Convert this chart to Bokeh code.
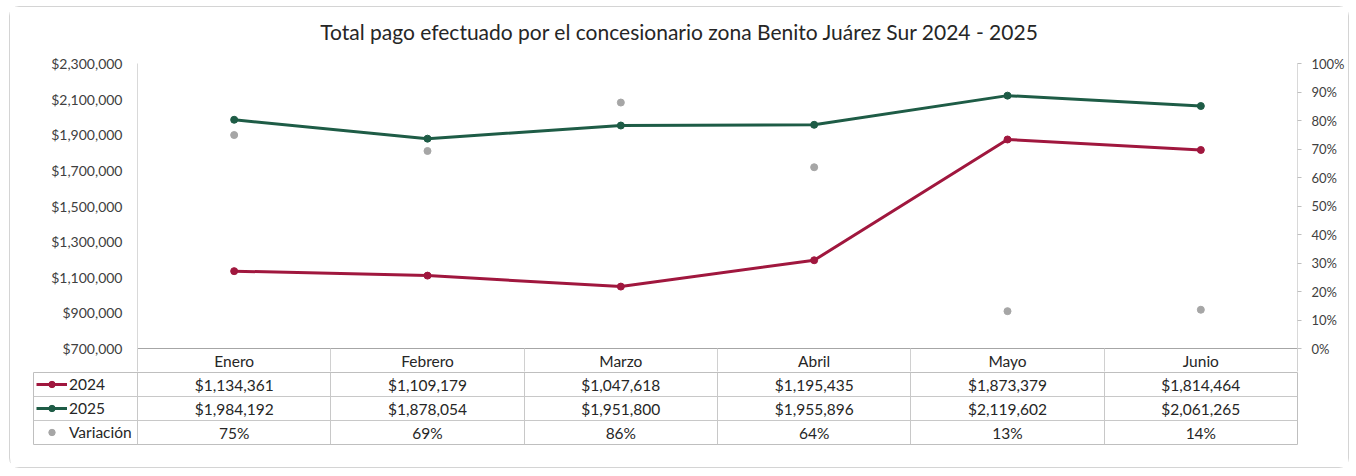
from bokeh.plotting import figure
from bokeh.layouts import column
from bokeh.models import (Range1d, LinearAxis, FixedTicker, NumeralTickFormatter,
                          Grid, Legend, LegendItem, ColumnDataSource, Div)
from bokeh.core.properties import value
from bokeh.embed import file_html
from bokeh.resources import INLINE

# ---------------- data ----------------
months = ["Enero", "Febrero", "Marzo", "Abril", "Mayo", "Junio"]
pago_2024 = [1134361, 1109179, 1047618, 1195435, 1873379, 1814464]
pago_2025 = [1984192, 1878054, 1951800, 1955896, 2119602, 2061265]
variacion = [0.749, 0.693, 0.863, 0.636, 0.131, 0.136]
left_ticks = [700000, 900000, 1100000, 1300000, 1500000, 1700000, 1900000, 2100000, 2300000]
right_ticks = [i / 10 for i in range(11)]
title_text = "Total pago efectuado por el concesionario zona Benito Juárez Sur 2024 - 2025"
series_names = ["2024", "2025", "Variación"]

C24 = "#A0173E"
C25 = "#1E5C46"
CVAR = "#A6A6A6"
FONT = "Lato"
TXT = "#262626"
W = 1338

xs = [i + 0.5 for i in range(len(months))]

# ---------------- title ----------------
title = Div(text=title_text, width=W, height=45, margin=(0, 0, 0, 0),
            styles={"font-family": FONT, "font-size": "21px", "color": TXT,
                    "text-align": "center", "line-height": "26px",
                    "padding-top": "12px", "box-sizing": "border-box",
                    "background-color": "white"})

# ---------------- main chart ----------------
p = figure(width=W, height=320, output_backend="svg", toolbar_location=None,
           x_range=Range1d(0, len(months)), y_range=Range1d(left_ticks[0], left_ticks[-1]),
           min_border_left=127, min_border_right=51, min_border_top=11, min_border_bottom=23,
           tools="", frame_align=False)
p.outline_line_color = None
p.background_fill_color = "white"
p.border_fill_color = "white"
for g in p.grid:
    g.visible = False

# x axis = header row of the table
xa = p.xaxis[0]
xa.ticker = FixedTicker(ticks=xs, minor_ticks=list(range(len(months) + 1)))
xa.major_label_overrides = {x: m for x, m in zip(xs, months)}
xa.major_tick_out = 0
xa.major_tick_in = 0
xa.minor_tick_out = 23
xa.minor_tick_in = 0
xa.minor_tick_line_color = "#d0d0d0"
xa.axis_line_color = "#a6a6a6"
xa.major_label_text_font = FONT
xa.major_label_text_font_size = "15.5px"
xa.major_label_text_color = TXT
xa.major_label_standoff = -20

ya = p.yaxis[0]
ya.ticker = FixedTicker(ticks=left_ticks, minor_ticks=[])
ya.formatter = NumeralTickFormatter(format="$0,0")
ya.major_tick_out = 0
ya.major_tick_in = 0
ya.minor_tick_out = 0
ya.minor_tick_in = 0
ya.axis_line_color = "#d9d9d9"
ya.major_label_text_font = FONT
ya.major_label_text_font_size = "14px"
ya.major_label_text_color = "#404040"
ya.major_label_standoff = 15

p.extra_y_ranges = {"pct": Range1d(0, 1)}
ra = LinearAxis(y_range_name="pct", ticker=FixedTicker(ticks=right_ticks, minor_ticks=[]),
                formatter=NumeralTickFormatter(format="0%"))
ra.major_tick_out = 4
ra.major_tick_in = 0
ra.major_tick_line_color = "#bfbfbf"
ra.minor_tick_out = 0
ra.minor_tick_in = 0
ra.axis_line_color = "#d9d9d9"
ra.major_label_text_font = FONT
ra.major_label_text_font_size = "13px"
ra.major_label_text_color = "#404040"
ra.major_label_standoff = 10
p.add_layout(ra, "right")

src = ColumnDataSource(dict(x=xs, y24=pago_2024, y25=pago_2025, var=variacion))
p.line("x", "y25", source=src, line_color=C25, line_width=3)
p.scatter("x", "y25", source=src, size=7, fill_color=C25, line_color=C25)
p.line("x", "y24", source=src, line_color=C24, line_width=3)
p.scatter("x", "y24", source=src, size=7, fill_color=C24, line_color=C24)
p.scatter("x", "var", source=src, y_range_name="pct", size=7, fill_color=CVAR, line_color=CVAR)

# ---------------- data table ----------------
t = figure(width=W, height=95, output_backend="svg", toolbar_location=None,
           x_range=Range1d(-104 / ((1297 - 137) / 6), len(months)), y_range=Range1d(0, 3),
           x_axis_location=None, y_axis_location=None,
           min_border_left=23, min_border_right=51, min_border_top=0, min_border_bottom=23,
           tools="", frame_align=False)
for g in t.grid:
    g.visible = False
t.outline_line_color = "#bfbfbf"
t.border_fill_color = "white"
t.add_layout(Grid(dimension=0, ticker=FixedTicker(ticks=list(range(len(months)))),
                  grid_line_color="#c8c8c8"), "center")
t.add_layout(Grid(dimension=1, ticker=FixedTicker(ticks=[1, 2]),
                  grid_line_color="#c8c8c8"), "center")

lab24 = ["${:,}".format(v) for v in pago_2024]
lab25 = ["${:,}".format(v) for v in pago_2025]
labvar = ["{}%".format(round(v * 100)) for v in variacion]
tsrc = ColumnDataSource(dict(x=xs, r1=[2.5] * 6, r2=[1.5] * 6, r3=[0.5] * 6,
                             a=lab24, b=lab25, c=labvar))
for ycol, tcol in (("r1", "a"), ("r2", "b"), ("r3", "c")):
    t.text("x", ycol, text=tcol, source=tsrc, text_align="center", text_baseline="middle",
           text_font=value(FONT), text_font_size="15.5px", text_color=TXT)

nan = float("nan")
dummy = ColumnDataSource(dict(x=[nan], y=[nan]))
k24l = t.line("x", "y", source=dummy, line_color=C24, line_width=3)
k24s = t.scatter("x", "y", source=dummy, size=7, fill_color=C24, line_color=C24)
k25l = t.line("x", "y", source=dummy, line_color=C25, line_width=3)
k25s = t.scatter("x", "y", source=dummy, size=7, fill_color=C25, line_color=C25)
kvs = t.scatter("x", "y", source=dummy, size=7, fill_color=CVAR, line_color=CVAR)
leg = Legend(items=[LegendItem(label=series_names[0], renderers=[k24l, k24s]),
                    LegendItem(label=series_names[1], renderers=[k25l, k25s]),
                    LegendItem(label=series_names[2], renderers=[kvs])],
             location=(3, 0), orientation="vertical", glyph_width=31, glyph_height=16,
             label_height=24, label_standoff=2, padding=0, margin=0, spacing=0,
             border_line_color=None, background_fill_alpha=0,
             label_text_font=FONT, label_text_font_size="15.5px", label_text_color=TXT)
t.add_layout(leg, "center")

layout = column(title, p, t, spacing=0, margin=(6, 0, 0, 9),
                styles={"border": "1px solid #d4d4d4", "border-radius": "10px",
                        "background-color": "white"})

open("out.html", "w").write(file_html(layout, INLINE))
